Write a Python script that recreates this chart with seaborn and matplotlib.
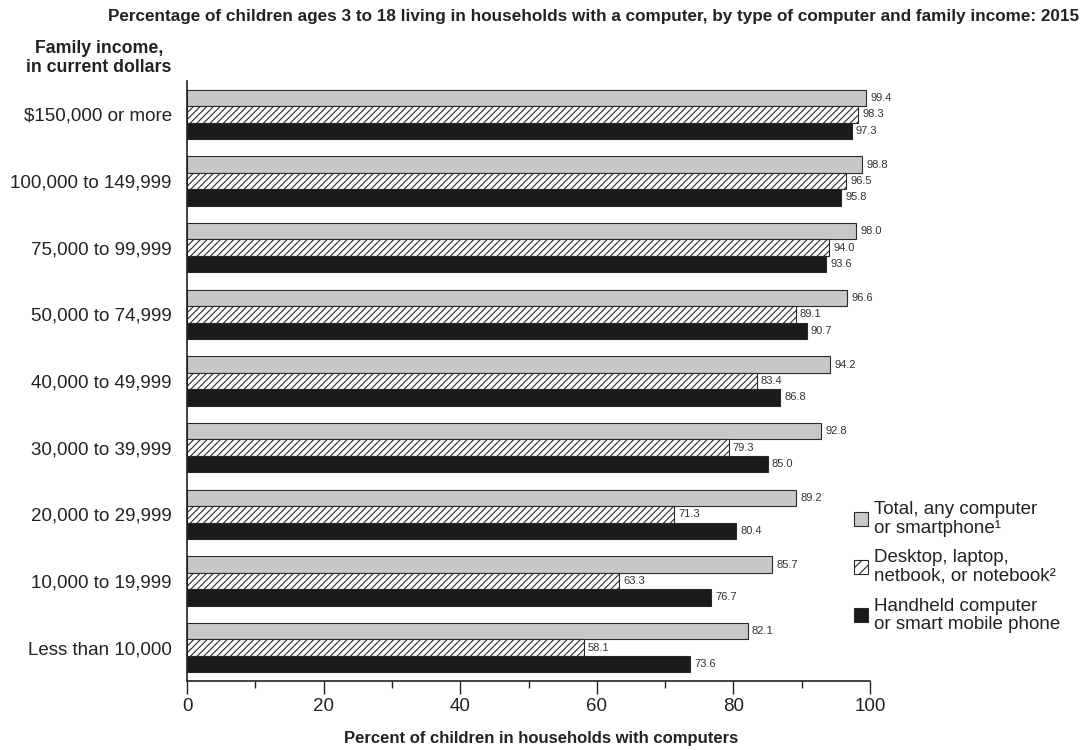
import matplotlib
matplotlib.use("Agg")
import matplotlib.pyplot as plt
from matplotlib.patches import Patch
from matplotlib.ticker import MultipleLocator
import seaborn as sns
import pandas as pd

income = ["$150,000 or more", "100,000 to 149,999", "75,000 to 99,999",
          "50,000 to 74,999", "40,000 to 49,999", "30,000 to 39,999",
          "20,000 to 29,999", "10,000 to 19,999", "Less than 10,000"]
total_any = [99.4, 98.8, 98.0, 96.6, 94.2, 92.8, 89.2, 85.7, 82.1]
desktop = [98.3, 96.5, 94.0, 89.1, 83.4, 79.3, 71.3, 63.3, 58.1]
handheld = [97.3, 95.8, 93.6, 90.7, 86.8, 85.0, 80.4, 76.7, 73.6]

series = ["Total, any computer\nor smartphone\u00b9",
          "Desktop, laptop,\nnetbook, or notebook\u00b2",
          "Handheld computer\nor smart mobile phone"]

df = pd.DataFrame({
    "income": income * 3,
    "pct": total_any + desktop + handheld,
    "type": [series[0]] * 9 + [series[1]] * 9 + [series[2]] * 9,
})

sns.set_theme(style="white")
plt.rcParams["font.family"] = ["Liberation Sans", "DejaVu Sans"]
plt.rcParams["hatch.color"] = "#444444"
plt.rcParams["hatch.linewidth"] = 0.8

fills = ["#c8c8c8", "#ffffff", "#1b1b1b"]
ink = "#222222"

fig = plt.figure(figsize=(10.85, 7.5), dpi=100)
ax = fig.add_axes([0.1724, 0.092, 0.6295, 0.800])

sns.barplot(data=df, y="income", x="pct", hue="type", order=income,
            hue_order=series, palette=fills, orient="h", width=0.74,
            edgecolor="#2a2a2a", linewidth=0.8, ax=ax, legend=False)

for bar in ax.containers[1]:
    bar.set_hatch("/////")

for cont in ax.containers:
    ax.bar_label(cont, fmt="%.1f", padding=3, fontsize=8, color="#333333")

ax.set_xlim(0, 100)
ax.set_ylim(8.5, -0.5)
ax.xaxis.set_major_locator(MultipleLocator(20))
ax.xaxis.set_minor_locator(MultipleLocator(10))
ax.tick_params(axis="x", which="major", direction="out", length=9, width=1,
               color=ink, labelsize=13.5, pad=3, bottom=True)
ax.tick_params(axis="x", which="minor", direction="out", length=5, width=1,
               color=ink, bottom=True)
ax.tick_params(axis="y", length=0, labelsize=13.5, pad=11)
for lbl in ax.get_xticklabels() + ax.get_yticklabels():
    lbl.set_color(ink)

for side in ["top", "right"]:
    ax.spines[side].set_visible(False)
for side in ["left", "bottom"]:
    ax.spines[side].set_color(ink)
    ax.spines[side].set_linewidth(1.2)

ax.set_ylabel("")
ax.set_xlabel("Percent of children in households with computers",
              fontsize=12, fontweight="bold", labelpad=12, color=ink)
ax.xaxis.label.set_x(0.519)

fig.text(0.995, 0.978,
         "Percentage of children ages 3 to 18 living in households with a computer, "
         "by type of computer and family income: 2015",
         ha="right", va="center", fontsize=12.3, fontweight="bold", color=ink)
fig.text(0.091, 0.923, "Family income,\nin current dollars", ha="center",
         va="center", fontsize=12.8, fontweight="bold", color=ink,
         linespacing=1.15, multialignment="center")

handles = [Patch(facecolor=fills[0], edgecolor="#2a2a2a", linewidth=0.8),
           Patch(facecolor=fills[1], edgecolor="#2a2a2a", linewidth=0.8,
                 hatch="///"),
           Patch(facecolor=fills[2], edgecolor="#2a2a2a", linewidth=0.8)]
leg = fig.legend(handles, series, loc="upper left",
                 bbox_to_anchor=(0.7805, 0.342), frameon=False, fontsize=13.5,
                 handlelength=0.75, handleheight=0.75, handletextpad=0.3,
                 labelspacing=0.68, borderaxespad=0)
for t in leg.get_texts():
    t.set_color(ink)
    t.set_linespacing(1.12)

fig.savefig("out.png", dpi=100)
